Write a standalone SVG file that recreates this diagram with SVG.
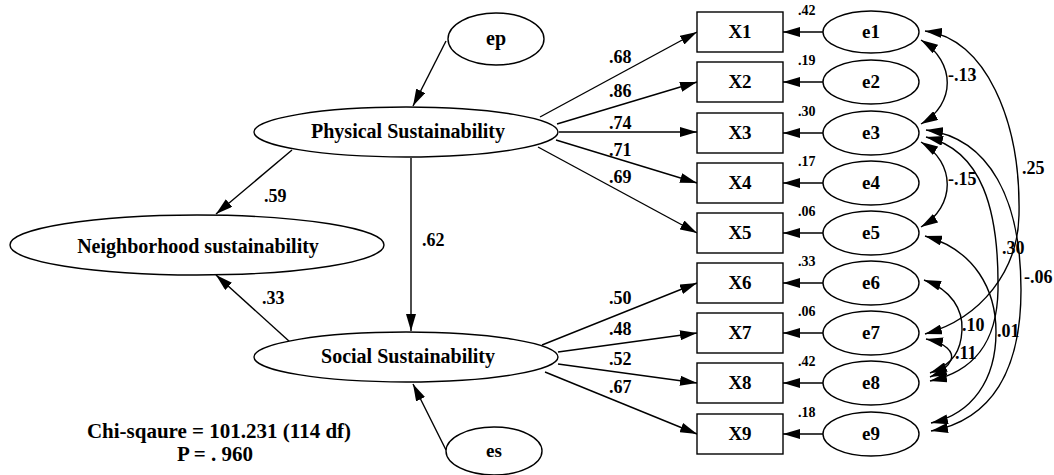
<svg xmlns="http://www.w3.org/2000/svg" width="1054" height="475" viewBox="0 0 1054 475">
<style>
.n{fill:#fff;stroke:#000;stroke-width:1.4}
.t{font-family:"Liberation Serif","Times New Roman",serif;font-weight:bold;font-size:20px;fill:#000;text-anchor:middle}
.m{font-size:19px}
.big{font-size:21px}
.l{font-family:"Liberation Serif","Times New Roman",serif;font-weight:bold;font-size:18px;fill:#000}
.s{font-family:"Liberation Serif","Times New Roman",serif;font-weight:bold;font-size:14px;fill:#000}
.c{fill:none;stroke:#000;stroke-width:1.4}
.a{marker-end:url(#ah)}
.d{marker-start:url(#ah);marker-end:url(#ah)}
</style>
<defs>
<marker id="ah" viewBox="0 0 17 10" refX="17" refY="5" markerWidth="17" markerHeight="10" orient="auto-start-reverse" markerUnits="userSpaceOnUse"><path d="M0,0 L17,5 L0,10 z" fill="#000"/></marker>
</defs>
<g id="connectors">
<path class="c a" d="M446 41 L413 106"/>
<path class="c a" d="M292 150 L216 214"/>
<path class="c a" d="M411 158 L411 331"/>
<path class="c a" d="M290 342 L216 275"/>
<path class="c a" d="M446 450 L413 384"/>
<path class="c a" d="M540 117 L697 32"/>
<path class="c a" d="M557 124 L697 82"/>
<path class="c a" d="M559 132 L697 132"/>
<path class="c a" d="M556 140 L697 183"/>
<path class="c a" d="M538 147 L697 233"/>
<path class="c a" d="M542 345 L697 283"/>
<path class="c a" d="M558 352 L697 333"/>
<path class="c a" d="M558 364 L697 383"/>
<path class="c a" d="M545 372 L697 434"/>
<path class="c a" d="M823 32 L783 32"/>
<path class="c a" d="M823 82 L783 82"/>
<path class="c a" d="M823 133 L783 133"/>
<path class="c a" d="M823 183 L783 183"/>
<path class="c a" d="M823 233 L783 233"/>
<path class="c a" d="M823 283 L783 283"/>
<path class="c a" d="M823 333 L783 333"/>
<path class="c a" d="M823 383 L783 383"/>
<path class="c a" d="M823 434 L783 434"/>
<path class="c d" d="M921 40 C956 62, 956 104, 921 124"/>
<path class="c d" d="M921 142 C956 163, 956 206, 921 227"/>
<path class="c d" d="M925 31 C985 38, 1021 120, 1019 215 C1018 270, 982 318, 925 334"/>
<path class="c d" d="M926 130 C990 138, 1021 200, 1021 290 C1021 370, 992 420, 931 431"/>
<path class="c d" d="M926 137 C982 150, 999 210, 998 290 C997 345, 972 372, 930 381"/>
<path class="c d" d="M925 236 C975 250, 996 290, 996 332 C996 380, 972 414, 931 423"/>
<path class="c d" d="M924 280 C952 290, 963 310, 962 330 C961 350, 954 364, 930 373"/>
<path class="c d" d="M926 339 C946 343, 954 352, 951 360 C948 367, 942 372, 930 377"/>
<text class="l" x="264" y="202">.59</text>
<text class="l" x="262" y="304">.33</text>
<text class="l" x="422" y="246">.62</text>
<text class="l" x="609" y="63">.68</text>
<text class="l" x="609" y="97">.86</text>
<text class="l" x="609" y="129">.74</text>
<text class="l" x="609" y="156">.71</text>
<text class="l" x="609" y="183">.69</text>
<text class="l" x="609" y="304">.50</text>
<text class="l" x="609" y="335">.48</text>
<text class="l" x="609" y="365">.52</text>
<text class="l" x="609" y="393">.67</text>
<text class="s" x="798" y="15">.42</text>
<text class="s" x="798" y="65">.19</text>
<text class="s" x="798" y="116">.30</text>
<text class="s" x="798" y="166">.17</text>
<text class="s" x="798" y="216">.06</text>
<text class="s" x="798" y="266">.33</text>
<text class="s" x="798" y="316">.06</text>
<text class="s" x="798" y="366">.42</text>
<text class="s" x="798" y="417">.18</text>
<text class="l" x="948" y="81">-.13</text>
<text class="l" x="948" y="185">-.15</text>
<text class="l" x="1022" y="174">.25</text>
<text class="l" x="1002" y="254">.30</text>
<text class="l" x="1024" y="283">-.06</text>
<text class="l" x="962" y="331">.10</text>
<text class="l" x="955" y="359">.11</text>
<text class="l" x="997" y="337">.01</text>
</g>
<g id="ep"><ellipse class="n" cx="496" cy="39" rx="48" ry="26"/><text class="t" x="496" y="45">ep</text></g>
<g id="es"><ellipse class="n" cx="494" cy="451" rx="48" ry="24"/><text class="t m" x="494" y="457">es</text></g>
<g id="physical"><ellipse class="n" cx="406" cy="132" rx="152" ry="25"/><text class="t" x="408" y="138">Physical Sustainability</text></g>
<g id="social"><ellipse class="n" cx="406" cy="357" rx="152" ry="25"/><text class="t" x="408" y="363">Social Sustainability</text></g>
<g id="neighborhood"><ellipse class="n" cx="197" cy="245" rx="187" ry="30"/><text class="t" x="198" y="253">Neighborhood sustainability</text></g>
<g id="X1"><rect class="n" x="697" y="12" width="86" height="40"/><text class="t m" x="740" y="38">X1</text></g>
<g id="X2"><rect class="n" x="697" y="62" width="86" height="40"/><text class="t m" x="740" y="88">X2</text></g>
<g id="X3"><rect class="n" x="697" y="113" width="86" height="40"/><text class="t m" x="740" y="139">X3</text></g>
<g id="X4"><rect class="n" x="697" y="163" width="86" height="40"/><text class="t m" x="740" y="189">X4</text></g>
<g id="X5"><rect class="n" x="697" y="213" width="86" height="40"/><text class="t m" x="740" y="239">X5</text></g>
<g id="X6"><rect class="n" x="697" y="263" width="86" height="40"/><text class="t m" x="740" y="289">X6</text></g>
<g id="X7"><rect class="n" x="697" y="313" width="86" height="40"/><text class="t m" x="740" y="339">X7</text></g>
<g id="X8"><rect class="n" x="697" y="363" width="86" height="40"/><text class="t m" x="740" y="389">X8</text></g>
<g id="X9"><rect class="n" x="697" y="414" width="86" height="40"/><text class="t m" x="740" y="440">X9</text></g>
<g id="e1"><ellipse class="n" cx="871" cy="32" rx="48" ry="21"/><text class="t m" x="871" y="38">e1</text></g>
<g id="e2"><ellipse class="n" cx="871" cy="82" rx="48" ry="22"/><text class="t m" x="871" y="88">e2</text></g>
<g id="e3"><ellipse class="n" cx="871" cy="133" rx="48" ry="22"/><text class="t m" x="871" y="139">e3</text></g>
<g id="e4"><ellipse class="n" cx="871" cy="183" rx="48" ry="22"/><text class="t m" x="871" y="189">e4</text></g>
<g id="e5"><ellipse class="n" cx="871" cy="233" rx="48" ry="22"/><text class="t m" x="871" y="239">e5</text></g>
<g id="e6"><ellipse class="n" cx="871" cy="283" rx="48" ry="22"/><text class="t m" x="871" y="289">e6</text></g>
<g id="e7"><ellipse class="n" cx="871" cy="333" rx="48" ry="22"/><text class="t m" x="871" y="339">e7</text></g>
<g id="e8"><ellipse class="n" cx="871" cy="383" rx="48" ry="22"/><text class="t m" x="871" y="389">e8</text></g>
<g id="e9"><ellipse class="n" cx="871" cy="434" rx="48" ry="22"/><text class="t m" x="871" y="440">e9</text></g>
<g id="fit">
<text class="t big" x="219" y="438">Chi-sqaure = 101.231 (114 df)</text>
<text class="t big" x="215" y="461">P = . 960</text>
</g>
</svg>
